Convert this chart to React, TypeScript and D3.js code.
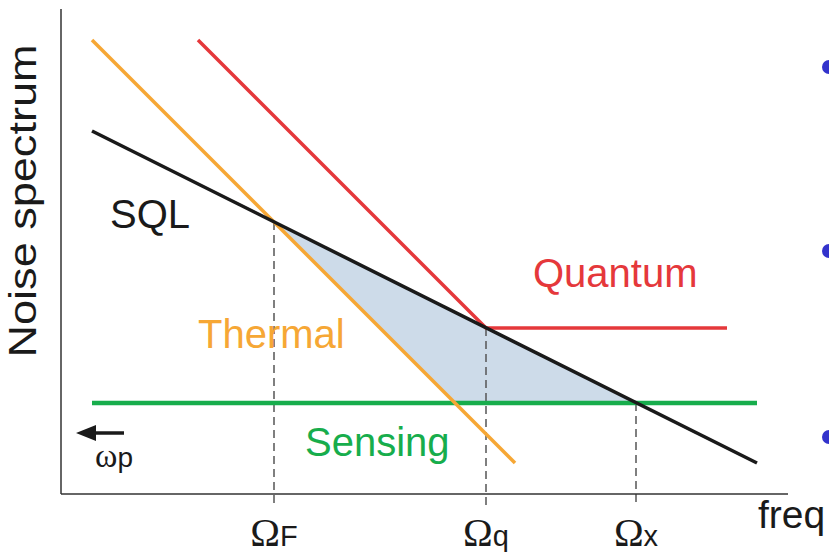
import * as d3 from 'd3';

// plot units: log-frequency (x) and log-noise (y), 1 unit = 50px on both axes
const thermalLine = [
  { x: 0.62, y: 9.08 },
  { x: 9.08, y: 0.62 },
];
const quantumLine = [
  { x: 2.74, y: 9.08 },
  { x: 8.5, y: 3.32 },
  { x: 13.32, y: 3.32 },
];
const sqlLine = [
  { x: 0.62, y: 7.26 },
  { x: 13.92, y: 0.62 },
];
const sensingLine = [
  { x: 0.62, y: 1.82 },
  { x: 13.92, y: 1.82 },
];
// region between SQL, thermal and sensing
const gapRegion = [
  { x: 4.26, y: 5.44 },
  { x: 11.5, y: 1.82 },
  { x: 7.88, y: 1.82 },
];
const freqMarks = [
  { x: 4.26, y: 5.44, sym: 'Ω', sub: 'F' },
  { x: 8.5, y: 3.32, sym: 'Ω', sub: 'q' },
  { x: 11.5, y: 1.82, sym: 'Ω', sub: 'x' },
];
const curveLabels = [
  { text: 'SQL', x: 0.98, y: 5.32, color: '#1a1a1a' },
  { text: 'Quantum', x: 9.44, y: 4.14, color: '#e5383b' },
  { text: 'Thermal', x: 2.74, y: 2.92, color: '#f6a735' },
  { text: 'Sensing', x: 4.88, y: 0.76, color: '#17ad4c' },
];
const bulletRows = [67, 251, 437];

const W = 829;
const H = 554;
const sans = '"Liberation Sans", Arial, Helvetica, sans-serif';
const serif = '"Liberation Serif", "Times New Roman", serif';

export default function App() {
  const margin = { left: 61, right: 41, top: 9, bottom: 60 };
  const xScale = d3.scaleLinear().domain([0, 14.54]).range([margin.left, W - margin.right]);
  const yScale = d3.scaleLinear().domain([0, 9.7]).range([H - margin.bottom, margin.top]);

  const line = d3
    .line<{ x: number; y: number }>()
    .x((d) => xScale(d.x))
    .y((d) => yScale(d.y));

  const x0 = xScale(0);
  const y0 = yScale(0);

  return (
    <svg
      width={W}
      height={H}
      style={{ position: 'absolute', left: 0, top: 0, background: '#fff' }}
      fontFamily={sans}
    >
      {/* shaded gap */}
      <path d={line(gapRegion) + 'Z'} fill="#cddbe9" />

      {/* dashed markers */}
      {freqMarks.map((m) => (
        <line
          key={m.sub}
          x1={xScale(m.x)}
          x2={xScale(m.x)}
          y1={yScale(m.y)}
          y2={yScale(-0.22)}
          stroke="#555"
          strokeWidth={1.5}
          strokeDasharray="8,5"
        />
      ))}

      {/* axes */}
      <line x1={x0} x2={x0} y1={yScale(9.7)} y2={y0} stroke="#333" strokeWidth={1.5} />
      <line x1={x0} x2={xScale(14.54)} y1={y0} y2={y0} stroke="#333" strokeWidth={1.5} />

      {/* curves */}
      <path d={line(sensingLine)!} fill="none" stroke="#17ad4c" strokeWidth={4.5} />
      <path d={line(thermalLine)!} fill="none" stroke="#f6a735" strokeWidth={3.5} />
      <path d={line(quantumLine)!} fill="none" stroke="#e5383b" strokeWidth={3.5} />
      <path d={line(sqlLine)!} fill="none" stroke="#1a1a1a" strokeWidth={3.5} />

      {curveLabels.map((l) => (
        <text key={l.text} x={xScale(l.x)} y={yScale(l.y)} fill={l.color} fontSize={40}>
          {l.text}
        </text>
      ))}

      {/* y label */}
      <text
        transform={`translate(36, 201) rotate(-90)`}
        textAnchor="middle"
        fontSize={39}
        fill="#1a1a1a"
        textLength={313}
        lengthAdjust="spacingAndGlyphs"
      >
        Noise spectrum
      </text>

      {/* x label */}
      <text x={758} y={528} fontSize={39} fill="#1a1a1a">
        freq
      </text>

      {/* tick labels */}
      {freqMarks.map((m) => (
        <text key={m.sub} x={xScale(m.x)} y={546} textAnchor="middle" fill="#1a1a1a">
          <tspan fontFamily={serif} fontSize={40}>
            {m.sym}
          </tspan>
          <tspan fontSize={29}>{m.sub}</tspan>
        </text>
      ))}

      {/* pump arrow */}
      <line x1={124} x2={90} y1={433} y2={433} stroke="#1a1a1a" strokeWidth={3.5} />
      <path d="M76,433 L96,425 L96,441 Z" fill="#1a1a1a" />
      <text x={95} y={467} fill="#1a1a1a">
        <tspan fontFamily={serif} fontSize={34}>
          ω
        </tspan>
        <tspan fontSize={28}>p</tspan>
      </text>

      {/* slide bullets */}
      {bulletRows.map((y) => (
        <circle key={y} cx={829} cy={y} r={7} fill="#3333cc" />
      ))}
    </svg>
  );
}
